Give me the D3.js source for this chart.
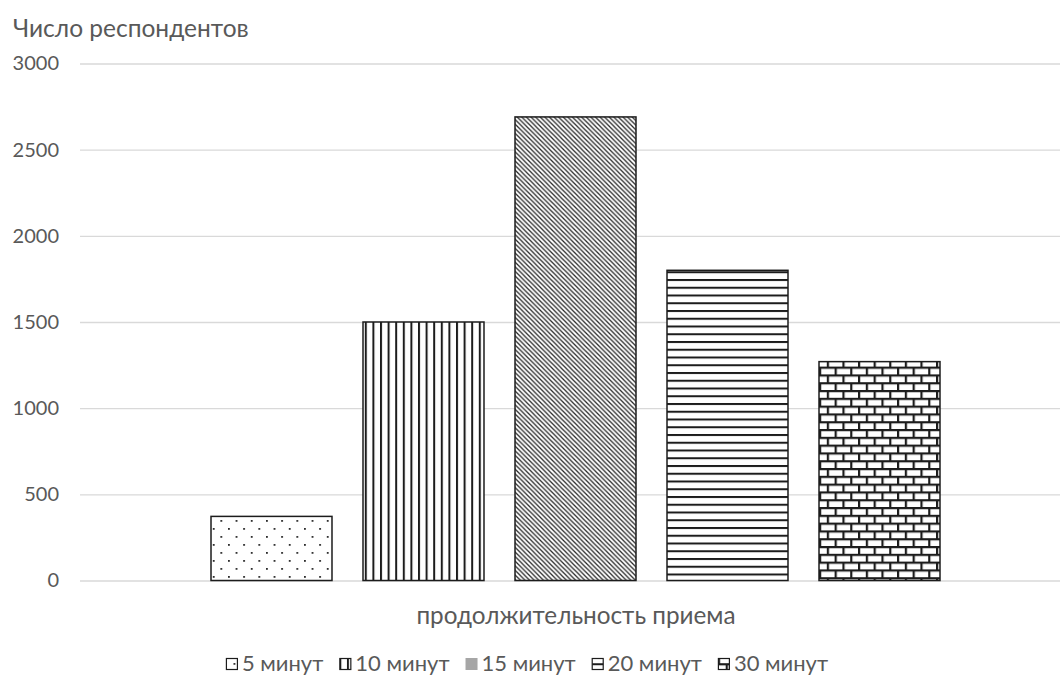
<!DOCTYPE html>
<html>
<head>
<meta charset="utf-8">
<script src="https://cdn.jsdelivr.net/npm/d3@7"></script>
<style>
  html, body { margin: 0; padding: 0; background: #fff; }
  svg text { font-family: Lato, "Open Sans", sans-serif; fill: #595959; }
</style>
</head>
<body>
<svg id="chart" width="1060" height="682"></svg>
<script>
// Survey: number of respondents by appointment length
const seriesNames = ["5 минут", "10 минут", "15 минут", "20 минут", "30 минут"];
const respondents = [372, 1500, 2690, 1800, 1270];
const yTickValues = [0, 500, 1000, 1500, 2000, 2500, 3000];
const yAxisTitle = "Число респондентов";
const xAxisTitle = "продолжительность приема";
const fillIds = ["pat-dots", "pat-vert", "pat-diag", "pat-horiz", "pat-brick"];

const W = 1060, H = 682;
const plotLeft = 80, plotRight = 1060, plotTop = 63.5, plotBottom = 580.5;
const ink = "#1c1c1c";

const svg = d3.select("#chart");
const defs = svg.append("defs");

// hatch fills
const dots = defs.append("pattern").attr("id", "pat-dots")
  .attr("patternUnits", "userSpaceOnUse").attr("width", 15.2).attr("height", 16);
dots.append("rect").attr("width", 15.2).attr("height", 16).attr("fill", "#fff");
dots.append("rect").attr("x", 0).attr("y", 0).attr("width", 1.8).attr("height", 1.8).attr("fill", "#2a2a2a");
dots.append("rect").attr("x", 7.6).attr("y", 8).attr("width", 1.8).attr("height", 1.8).attr("fill", "#2a2a2a");

const vert = defs.append("pattern").attr("id", "pat-vert")
  .attr("patternUnits", "userSpaceOnUse").attr("width", 7.6).attr("height", 10);
vert.append("rect").attr("width", 7.6).attr("height", 10).attr("fill", "#fff");
vert.append("rect").attr("x", 0).attr("width", 2).attr("height", 10).attr("fill", ink);

const diag = defs.append("pattern").attr("id", "pat-diag")
  .attr("patternUnits", "userSpaceOnUse").attr("width", 4.6).attr("height", 4.6);
diag.append("rect").attr("width", 4.6).attr("height", 4.6).attr("fill", "#fff");
diag.append("path").attr("d", "M-1,-1L5.6,5.6M-1,3.6L1,5.6M3.6,-1L5.6,1")
  .attr("stroke", "#2a2a2a").attr("stroke-width", 1.3);

const horiz = defs.append("pattern").attr("id", "pat-horiz")
  .attr("patternUnits", "userSpaceOnUse").attr("width", 10).attr("height", 7.75);
horiz.append("rect").attr("width", 10).attr("height", 7.75).attr("fill", "#fff");
horiz.append("rect").attr("y", 0).attr("width", 10).attr("height", 2).attr("fill", ink);

const brick = defs.append("pattern").attr("id", "pat-brick")
  .attr("patternUnits", "userSpaceOnUse").attr("width", 15.6).attr("height", 15.6);
brick.append("rect").attr("width", 15.6).attr("height", 15.6).attr("fill", "#fff");
brick.append("rect").attr("y", 0).attr("width", 15.6).attr("height", 2.2).attr("fill", ink);
brick.append("rect").attr("y", 7.8).attr("width", 15.6).attr("height", 2.2).attr("fill", ink);
brick.append("rect").attr("x", 0).attr("y", 0).attr("width", 2.2).attr("height", 7.8).attr("fill", ink);
brick.append("rect").attr("x", 7.8).attr("y", 7.8).attr("width", 2.2).attr("height", 7.8).attr("fill", ink);

// scales
const y = d3.scaleLinear().domain([0, 3000]).range([plotBottom, plotTop]);
const x = d3.scaleBand().domain(seriesNames)
  .range([195.5, 955.5]).paddingInner(0.204).paddingOuter(0.102);

// gridlines + tick labels
const yAxis = d3.axisLeft(y).tickValues(yTickValues)
  .tickSize(-(plotRight - plotLeft)).tickPadding(21).tickFormat(d3.format("d"));
const gAxis = svg.append("g").attr("transform", `translate(${plotLeft},0)`).call(yAxis);
gAxis.select(".domain").remove();
gAxis.selectAll(".tick line").attr("stroke", "#d9d9d9").attr("stroke-width", 1.4);
gAxis.selectAll(".tick text").attr("fill", "#595959")
  .style("font-size", "20px").style("font-family", "Lato, sans-serif");

// bars
svg.append("g").selectAll("rect").data(respondents).join("rect")
  .attr("x", (d, i) => x(seriesNames[i]))
  .attr("y", d => y(d))
  .attr("width", x.bandwidth())
  .attr("height", d => y(0) - y(d))
  .attr("fill", (d, i) => `url(#${fillIds[i]})`)
  .attr("stroke", ink).attr("stroke-width", 1.5);

// titles
svg.append("text").attr("x", 13).attr("y", 37)
  .style("font-size", "24.5px").text(yAxisTitle);
svg.append("text").attr("x", (plotLeft + 1072) / 2).attr("y", 624)
  .attr("text-anchor", "middle").style("font-size", "24.3px").text(xAxisTitle);

// legend
const legend = svg.append("g");
const sw = 12, gap = 4, spacing = 16;
let cx = 0;
seriesNames.forEach((name, i) => {
  const g = legend.append("g");
  if (i === 2) {
    g.append("rect").attr("x", 0).attr("y", -sw - 1).attr("width", sw).attr("height", sw)
      .attr("fill", "#a6a6a6");
  } else {
    g.append("rect").attr("x", 0.5).attr("y", -sw - 0.5).attr("width", sw - 1).attr("height", sw - 1)
      .attr("fill", `url(#${fillIds[i]})`).attr("stroke", ink).attr("stroke-width", 1.2);
  }
  const t = g.append("text").attr("x", sw + gap).attr("y", 0)
    .style("font-size", "22px").text(name);
  const w = sw + gap + t.node().getComputedTextLength();
  g.attr("transform", `translate(${cx},0)`);
  cx += w + spacing;
});
const totalW = cx - spacing;
legend.attr("transform", `translate(${527 - totalW / 2},671)`);
</script>
</body>
</html>
